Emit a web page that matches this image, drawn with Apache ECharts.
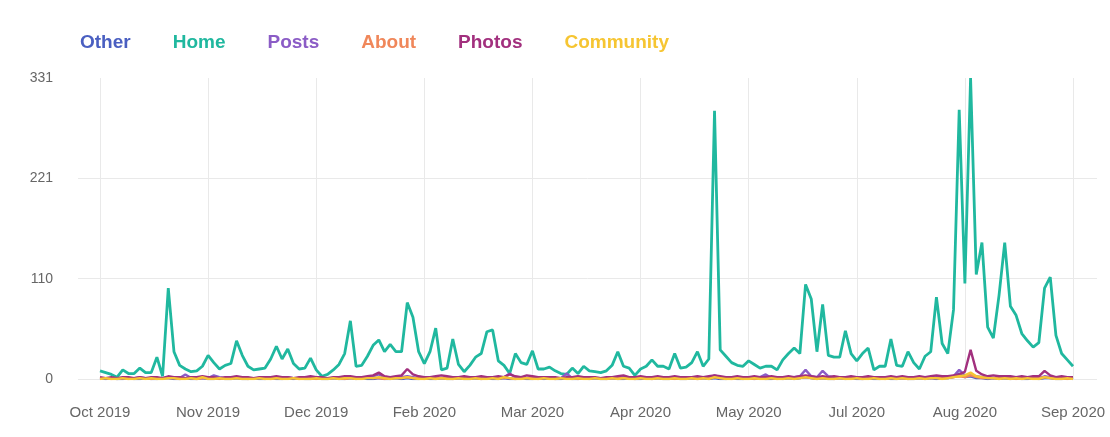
<!DOCTYPE html>
<html>
<head>
<meta charset="utf-8">
<script src="https://cdn.jsdelivr.net/npm/echarts@6/dist/echarts.min.js"></script>
<style>
html,body{margin:0;padding:0;background:#fff;}
#chart{width:1110px;height:437px;}
</style>
</head>
<body>
<div id="chart"></div>
<script>
// ---- DATA ----
var startDate = '2019-10-12';
var stepDays = 2;
var tickLabels = ['Oct 2019','Nov 2019','Dec 2019','Feb 2020','Mar 2020','Apr 2020','May 2020','Jul 2020','Aug 2020','Sep 2020'];
var seriesNames = ['Other','Home','Posts','About','Photos','Community'];
var seriesColors = ['#4a5fc1','#20b89f','#8b5cc6','#f0875a','#a2307e','#f6c532'];

var home = [
 9,7,5,2,10,6,6,12,7,7,24,3,100,30,15,11,8,9,14,26,
 18,11,15,17,42,26,14,10,11,12,22,36,22,33,17,11,12,23,10,3,
 5,10,16,28,64,14,15,25,37,43,30,38,30,30,84,68,30,17,30,56,
 10,12,44,16,8,15,24,28,52,54,20,15,6,28,18,16,31,11,11,13,
 9,6,5,12,6,14,9,8,7,9,15,30,14,12,4,11,14,21,14,14,
 11,28,12,13,18,30,14,22,295,32,25,18,15,14,20,16,12,14,14,10,
 21,28,34,28,104,88,30,82,26,24,24,53,28,20,28,34,10,14,14,44,
 15,14,30,18,11,25,30,90,39,28,76,296,105,331,115,150,57,45,92,150,
 80,70,50,42,35,40,100,112,48,28,21,14
];
var photos = [
 2,1,2,1,2,2,1,2,1,2,2,1,3,2,2,1,2,2,3,2,
 2,1,2,2,3,2,2,1,2,2,2,3,2,2,1,2,2,3,2,2,
 1,2,2,3,3,2,2,3,4,7,3,2,3,4,11,5,3,2,2,3,
 4,3,2,2,3,2,2,3,2,2,3,2,5,3,2,4,3,2,2,2,
 2,1,2,2,3,2,2,2,1,2,2,3,4,2,2,3,2,2,3,2,
 2,3,2,2,2,3,2,3,4,3,2,2,3,2,2,3,2,2,3,2,
 2,3,2,3,4,3,2,3,2,3,2,2,3,2,2,3,2,2,2,3,
 2,3,2,2,3,2,3,4,3,3,4,5,8,32,9,5,3,4,3,3,
 3,2,3,2,3,3,9,4,2,3,2,2
];
var posts = [
 1,1,1,0,1,1,1,2,1,1,1,1,2,1,1,5,1,1,1,1,
 4,2,1,1,2,1,1,1,1,2,1,1,1,2,1,1,1,1,2,1,
 1,1,2,1,2,1,1,2,3,5,2,1,2,2,3,2,1,1,2,1,
 1,2,1,1,1,2,1,1,1,2,1,2,6,2,1,1,2,1,1,1,
 1,1,6,1,1,2,1,1,1,1,1,1,2,1,1,1,1,1,2,1,
 1,1,1,2,1,1,2,1,4,2,1,1,1,2,1,1,2,5,1,1,
 1,2,2,3,10,3,2,9,3,2,1,1,2,1,1,2,1,1,1,2,
 1,1,2,1,1,2,1,2,2,3,3,10,4,4,3,2,2,1,2,1,
 1,2,1,1,2,1,3,2,1,1,1,1
];
var other = [
 1,0,1,0,0,1,0,0,1,0,0,1,1,0,0,1,0,0,1,0,
 0,1,0,0,1,0,0,1,0,0,1,0,0,1,0,1,0,0,1,0,
 0,1,0,0,1,0,1,0,0,1,0,0,1,0,1,0,0,1,0,0,
 1,0,0,1,0,0,1,0,1,0,0,1,0,0,1,0,0,1,0,1,
 0,0,1,0,0,1,0,1,0,0,1,0,0,1,0,0,1,0,1,0,
 0,1,0,0,1,0,1,0,1,0,0,1,0,0,1,0,1,0,0,1,
 0,1,0,1,2,1,0,1,0,0,1,0,1,0,0,1,0,0,1,0,
 0,1,0,0,1,0,1,0,1,1,2,6,2,3,1,1,0,1,0,1,
 0,1,0,0,1,0,1,1,0,0,1,0
];
var about = [
 1,1,0,1,1,0,1,1,1,0,1,1,1,1,0,1,1,0,1,1,
 1,0,1,1,1,1,0,1,1,1,0,1,1,1,1,0,1,1,0,1,
 1,1,1,0,1,1,1,2,1,1,0,1,1,1,2,1,1,0,1,1,
 1,1,0,1,1,1,1,0,1,1,1,1,1,0,1,1,1,0,1,1,
 0,1,1,1,0,1,1,1,1,0,1,1,1,1,0,1,1,0,1,1,
 1,0,1,1,1,0,1,1,2,1,1,0,1,1,1,0,1,1,1,0,
 1,1,1,1,2,1,1,1,1,0,1,1,1,1,0,1,1,1,0,1,
 1,1,0,1,1,1,1,1,1,1,2,3,2,4,2,1,1,1,1,1,
 1,0,1,1,1,1,2,1,1,1,0,1
];
var community = [
 0,1,0,0,1,0,0,1,0,1,0,0,1,1,0,0,1,0,2,0,
 0,1,0,0,1,0,0,0,1,0,0,1,0,0,1,0,0,0,1,0,
 0,1,0,1,1,0,0,1,1,2,1,0,1,1,2,1,0,0,1,0,
 1,0,0,1,0,0,1,0,0,1,0,2,1,0,0,1,0,0,1,0,
 0,1,0,0,1,0,0,1,0,0,1,0,1,0,0,1,0,0,1,0,
 0,1,0,0,1,0,1,0,2,1,0,0,1,0,0,1,0,0,1,0,
 0,1,0,1,2,1,0,1,0,0,1,0,0,1,0,0,1,0,0,1,
 0,1,0,0,1,0,1,1,0,1,2,3,4,7,3,2,1,1,0,1,
 0,1,0,1,0,0,2,1,0,0,1,0
];
var seriesValues = [other, home, posts, about, photos, community];

// categories (dates)
var categories = [];
(function(){
  var d0 = new Date(startDate + 'T00:00:00Z');
  for (var i = 0; i < home.length; i++) {
    var d = new Date(d0.getTime() + i * stepDays * 86400000);
    categories.push(d.toISOString().slice(0,10));
  }
})();
var labelEvery = 19;

var chart = echarts.init(document.getElementById('chart'), null, {renderer:'canvas'});
var yMax = 331;
var series = seriesNames.map(function(n, k){
  return {
    name: n, type: 'line', xAxisIndex: 1, yAxisIndex: 1,
    data: seriesValues[k], showSymbol: false, symbol: 'none',
    lineStyle: {width: n === 'Home' ? 2.8 : 2.4, color: seriesColors[k]},
    itemStyle: {color: seriesColors[k]},
    animation: false
  };
});
chart.setOption({
  animation: false,
  legend: {
    left: 70, top: 28, itemGap: 37, itemWidth: 0, itemHeight: 0,
    icon: 'rect',
    data: seriesNames.map(function(n,k){
      return {name: n, textStyle: {color: seriesColors[k]}};
    }),
    textStyle: {fontSize: 19, fontWeight: 'bold', fontFamily: 'Liberation Sans, Arial, sans-serif'}
  },
  grid: [
    {left: 78, right: 13, top: 78, bottom: 58},
    {left: 100, right: 37, top: 78, bottom: 58}
  ],
  xAxis: [
    {gridIndex: 0, type: 'value', min: 0, max: 1, show: false},
    {gridIndex: 1, type: 'category', data: categories, boundaryGap: false,
     axisLine: {show: false}, axisTick: {show: false},
     axisLabel: {interval: labelEvery - 1, margin: 26, color: '#666', fontSize: 15,
       fontFamily: 'Liberation Sans, Arial, sans-serif',
       formatter: function(v, idx){ return tickLabels[Math.round(idx / labelEvery)] || ''; }},
     splitLine: {show: true, interval: labelEvery - 1, lineStyle: {color: '#e9e9e9', width: 1}}
    }
  ],
  yAxis: [
    {gridIndex: 0, type: 'value', min: 0, max: yMax, interval: yMax / 3,
     axisLine: {show: false}, axisTick: {show: false},
     axisLabel: {margin: 25, color: '#666', fontSize: 14,
       fontFamily: 'Liberation Sans, Arial, sans-serif',
       formatter: function(v){ return Math.round(v); }},
     splitLine: {show: true, showMaxLine: false, lineStyle: {color: '#e9e9e9', width: 1}}
    },
    {gridIndex: 1, type: 'value', min: 0, max: yMax, interval: yMax / 3, show: false,
     splitLine: {show: false}}
  ],
  series: series
});
</script>
</body>
</html>
